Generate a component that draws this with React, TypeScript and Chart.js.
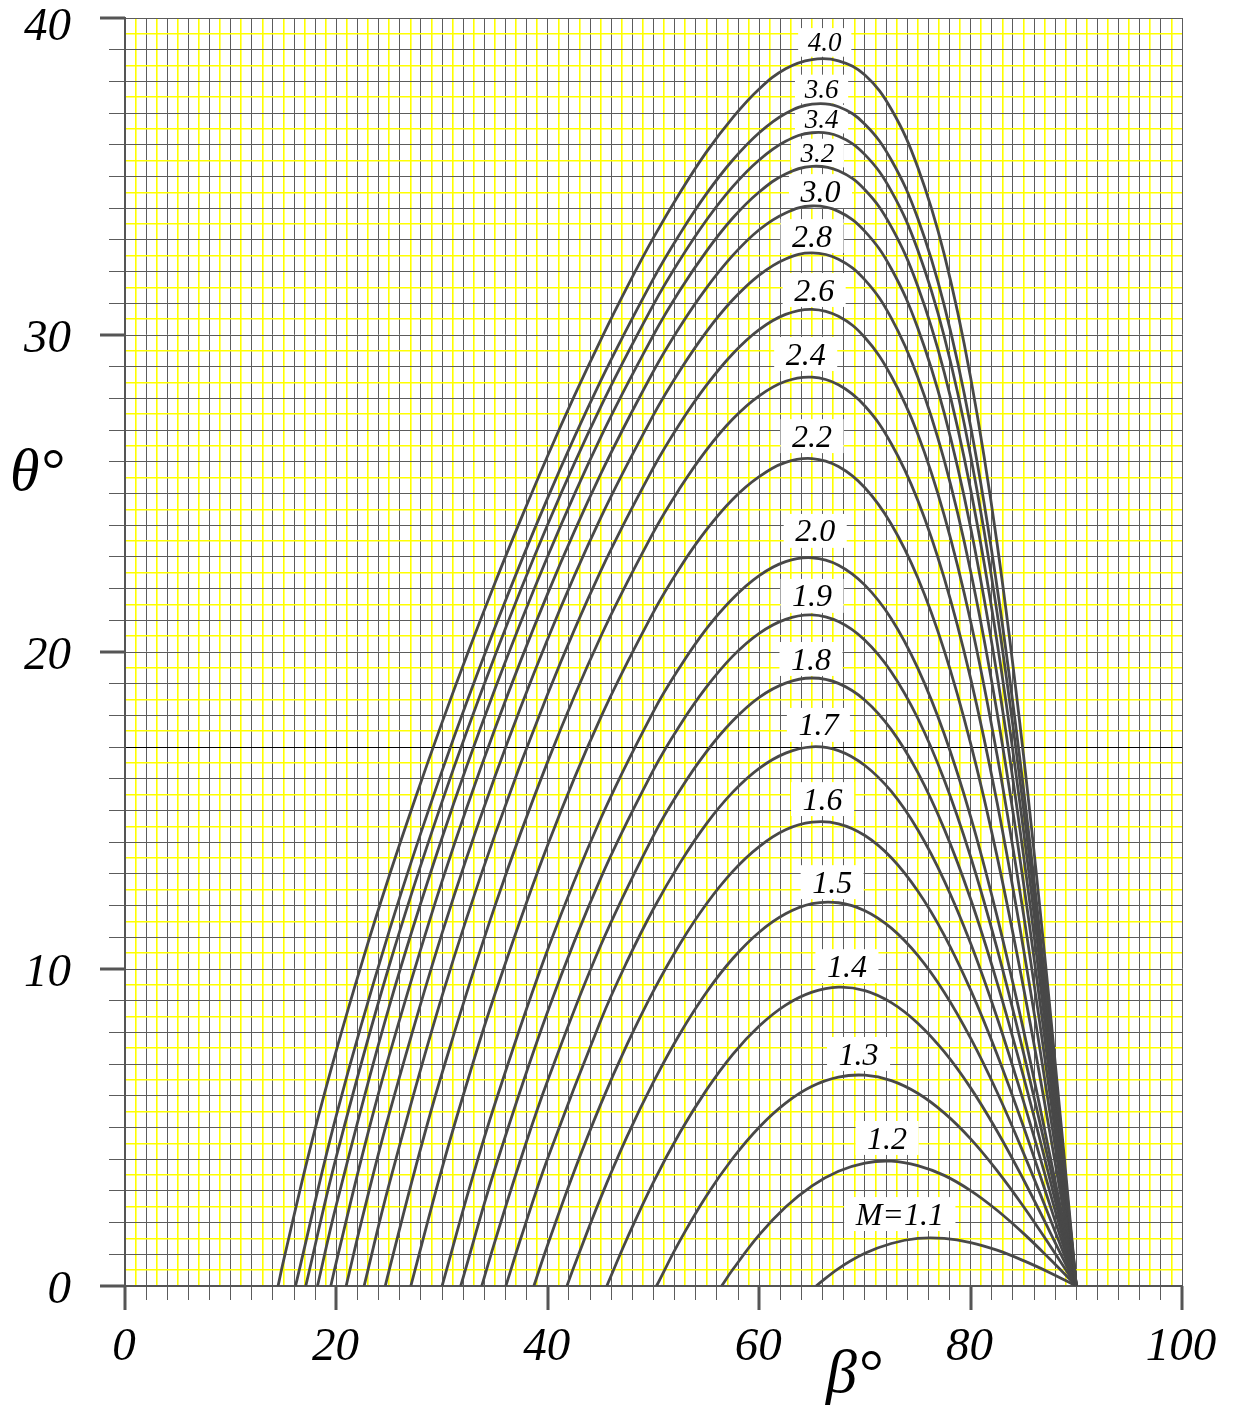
import { useEffect, useRef } from 'react';
import { Chart, registerables } from 'chart.js';

Chart.register(...registerables);

const SERIF = '"Liberation Serif", "Times New Roman", serif';
const CURVE_COLOR = '#484848';
const GRID_GRAY = '#5c5c5c';
const GRID_YELLOW = '#ffff00';

// Oblique shock curves: shock wave angle beta (deg) vs. flow deflection theta (deg)
const machNumbers = [4.0, 3.6, 3.4, 3.2, 3.0, 2.8, 2.6, 2.4, 2.2, 2.0, 1.9, 1.8, 1.7, 1.6, 1.5, 1.4, 1.3, 1.2, 1.1];

const beta40 = [14.48, 15, 17.5, 20, 22.5, 25, 27.5, 30, 32.5, 35, 37.5, 40, 42.5, 45, 47.5, 50, 52.5, 55, 57.5, 60, 62.5, 65, 67.5, 70, 72.5, 75, 77.5, 80, 82.5, 85, 87.5, 90];
const theta40 = [0, 0.8, 4.32, 7.44, 10.29, 12.94, 15.42, 17.78, 20.03, 22.18, 24.23, 26.2, 28.07, 29.84, 31.51, 33.07, 34.49, 35.77, 36.86, 37.76, 38.4, 38.69, 38.65, 38.2, 37.12, 35.29, 32.55, 28.66, 23.44, 16.76, 8.78, 0];

const beta36 = [16.13, 20, 25, 30, 35, 40, 45, 50, 52.5, 55, 57.5, 60, 62.5, 65, 67.5, 70, 72.5, 75, 77.5, 80, 82.5, 85, 87.5, 90];
const theta36 = [0, 5.39, 11.2, 16.25, 20.77, 24.87, 28.55, 31.78, 33.19, 34.45, 35.52, 36.38, 36.99, 37.28, 37.2, 36.65, 35.52, 33.68, 30.94, 27.12, 22.06, 15.7, 8.2, 0];

const beta34 = [17.1, 20, 25, 30, 35, 40, 45, 50, 52.5, 55, 57.5, 60, 62.5, 65, 67.5, 70, 72.5, 75, 77.5, 80, 82.5, 85, 87.5, 90];
const theta34 = [0, 4.09, 10.11, 15.28, 19.88, 24.03, 27.73, 30.96, 32.37, 33.62, 34.68, 35.52, 36.11, 36.38, 36.27, 35.69, 34.54, 32.68, 29.96, 26.19, 21.25, 15.08, 7.86, 0];

const beta32 = [18.21, 20, 25, 30, 35, 40, 45, 50, 52.5, 55, 57.5, 60, 62.5, 65, 67.5, 70, 72.5, 75, 77.5, 80, 82.5, 85, 87.5, 90];
const theta32 = [0, 2.57, 8.82, 14.14, 18.83, 23.03, 26.77, 30.0, 31.41, 32.64, 33.69, 34.51, 35.08, 35.32, 35.18, 34.58, 33.41, 31.54, 28.83, 25.13, 20.32, 14.38, 7.48, 0];

const beta30 = [19.47, 20, 22.5, 25, 30, 35, 40, 45, 50, 52.5, 55, 57.5, 60, 62.5, 65, 67.5, 70, 72.5, 75, 77.5, 80, 82.5, 85, 87.5, 90];
const theta30 = [0, 0.77, 4.19, 7.28, 12.77, 17.58, 21.85, 25.61, 28.86, 30.26, 31.48, 32.51, 33.32, 33.85, 34.07, 33.9, 33.27, 32.09, 30.22, 27.54, 23.93, 19.28, 13.6, 7.05, 0];

const beta28 = [20.92, 22.5, 25, 30, 35, 40, 45, 50, 52.5, 55, 57.5, 60, 62.5, 65, 67.5, 70, 72.5, 75, 77.5, 80, 82.5, 85, 87.5, 90];
const theta28 = [0, 2.21, 5.44, 11.13, 16.07, 20.42, 24.23, 27.48, 28.88, 30.1, 31.11, 31.89, 32.4, 32.59, 32.39, 31.74, 30.53, 28.67, 26.05, 22.55, 18.1, 12.72, 6.58, 0];

const beta26 = [22.62, 25, 30, 35, 40, 45, 50, 52.5, 55, 57.5, 60, 62.5, 65, 67.5, 70, 72.5, 75, 77.5, 80, 82.5, 85, 87.5, 90];
const theta26 = [0, 3.22, 9.15, 14.24, 18.68, 22.55, 25.82, 27.21, 28.41, 29.41, 30.17, 30.65, 30.81, 30.59, 29.92, 28.7, 26.88, 24.32, 20.97, 16.76, 11.74, 6.06, 0];

const beta24 = [24.62, 25, 27.5, 30, 35, 40, 45, 50, 52.5, 55, 57.5, 60, 62.5, 65, 67.5, 70, 72.5, 75, 77.5, 80, 82.5, 85, 87.5, 90];
const theta24 = [0, 0.51, 3.75, 6.72, 11.99, 16.55, 20.48, 23.78, 25.17, 26.37, 27.35, 28.08, 28.54, 28.67, 28.43, 27.76, 26.57, 24.79, 22.34, 19.17, 15.26, 10.64, 5.48, 0];

const beta22 = [27.04, 30, 32.5, 35, 40, 45, 50, 52.5, 55, 57.5, 60, 62.5, 65, 67.5, 70, 72.5, 75, 77.5, 80, 82.5, 85, 87.5, 90];
const theta22 = [0, 3.72, 6.57, 9.21, 13.92, 17.93, 21.26, 22.66, 23.85, 24.82, 25.53, 25.98, 26.1, 25.85, 25.18, 24.03, 22.34, 20.05, 17.12, 13.56, 9.42, 4.84, 0];

const beta20 = [30, 32.5, 35, 40, 45, 50, 52.5, 55, 57.5, 60, 62.5, 65, 67.5, 70, 72.5, 75, 77.5, 80, 82.5, 85, 87.5, 90];
const theta20 = [0, 2.99, 5.75, 10.62, 14.74, 18.13, 19.53, 20.73, 21.69, 22.41, 22.85, 22.97, 22.74, 22.11, 21.05, 19.49, 17.42, 14.81, 11.67, 8.08, 4.13, 0];

const beta19 = [31.76, 35, 40, 45, 50, 52.5, 55, 57.5, 60, 62.5, 65, 67.5, 70, 72.5, 75, 77.5, 80, 82.5, 85, 87.5, 90];
const theta19 = [0, 3.7, 8.67, 12.86, 16.28, 17.69, 18.89, 19.87, 20.59, 21.03, 21.17, 20.96, 20.37, 19.37, 17.91, 15.97, 13.54, 10.65, 7.36, 3.76, 0];

const beta18 = [33.75, 35, 37.5, 40, 45, 50, 52.5, 55, 57.5, 60, 62.5, 65, 67.5, 70, 72.5, 75, 77.5, 80, 82.5, 85, 87.5, 90];
const theta18 = [0, 1.41, 4.06, 6.49, 10.74, 14.21, 15.64, 16.85, 17.83, 18.57, 19.02, 19.18, 19.01, 18.48, 17.55, 16.2, 14.42, 12.21, 9.58, 6.61, 3.37, 0];

const beta17 = [36.03, 37.5, 40, 45, 47.5, 50, 52.5, 55, 57.5, 60, 62.5, 65, 67.5, 70, 72.5, 75, 77.5, 80, 82.5, 85, 87.5, 90];
const theta17 = [0, 1.56, 4.04, 8.37, 10.24, 11.9, 13.34, 14.58, 15.58, 16.33, 16.81, 17.01, 16.89, 16.42, 15.6, 14.39, 12.79, 10.81, 8.47, 5.83, 2.97, 0];

const beta16 = [38.68, 40, 42.5, 45, 47.5, 50, 52.5, 55, 57.5, 60, 62.5, 65, 67.5, 70, 72.5, 75, 77.5, 80, 82.5, 85, 87.5, 90];
const theta16 = [0, 1.31, 3.62, 5.73, 7.62, 9.31, 10.79, 12.05, 13.08, 13.86, 14.39, 14.63, 14.58, 14.21, 13.51, 12.46, 11.07, 9.34, 7.31, 5.03, 2.56, 0];

const beta15 = [41.81, 42.5, 45, 47.5, 50, 52.5, 55, 57.5, 60, 62.5, 65, 67.5, 70, 72.5, 75, 77.5, 80, 82.5, 85, 87.5, 90];
const theta15 = [0, 0.63, 2.78, 4.72, 6.44, 7.96, 9.26, 10.33, 11.16, 11.74, 12.06, 12.09, 11.84, 11.29, 10.43, 9.27, 7.82, 6.12, 4.2, 2.14, 0];

const beta14 = [45.58, 47.5, 50, 52.5, 55, 57.5, 60, 62.5, 65, 67.5, 70, 72.5, 75, 77.5, 80, 82.5, 85, 87.5, 90];
const theta14 = [0, 1.5, 3.28, 4.84, 6.18, 7.31, 8.2, 8.86, 9.27, 9.43, 9.32, 8.94, 8.29, 7.39, 6.25, 4.89, 3.36, 1.71, 0];

const beta13 = [50.28, 52.5, 55, 57.5, 60, 62.5, 65, 67.5, 70, 72.5, 75, 77.5, 80, 82.5, 85, 87.5, 90];
const theta13 = [0, 1.43, 2.84, 4.03, 5.01, 5.77, 6.3, 6.59, 6.65, 6.48, 6.08, 5.46, 4.64, 3.64, 2.51, 1.28, 0];

const beta12 = [56.44, 57.5, 60, 62.5, 65, 67.5, 70, 72.5, 75, 77.5, 80, 82.5, 85, 87.5, 90];
const theta12 = [0, 0.52, 1.61, 2.49, 3.16, 3.62, 3.88, 3.94, 3.8, 3.49, 3.01, 2.39, 1.66, 0.85, 0];

const beta11 = [65.38, 67.5, 70, 72.5, 75, 77.5, 80, 82.5, 85, 87.5, 90];
const theta11 = [0, 0.55, 1.03, 1.34, 1.5, 1.5, 1.37, 1.13, 0.8, 0.42, 0];

const curveBeta = [beta40, beta36, beta34, beta32, beta30, beta28, beta26, beta24, beta22, beta20, beta19, beta18, beta17, beta16, beta15, beta14, beta13, beta12, beta11];
const curveTheta = [theta40, theta36, theta34, theta32, theta30, theta28, theta26, theta24, theta22, theta20, theta19, theta18, theta17, theta16, theta15, theta14, theta13, theta12, theta11];

// Curve labels (placed in data coordinates above each peak)
const labelText = ['4.0', '3.6', '3.4', '3.2', '3.0', '2.8', '2.6', '2.4', '2.2', '2.0', '1.9', '1.8', '1.7', '1.6', '1.5', '1.4', '1.3', '1.2', 'M=1.1'];
const labelBeta = [66.2, 65.9, 65.9, 65.5, 65.8, 65.0, 65.2, 64.4, 65.0, 65.3, 65.0, 64.9, 65.6, 66.0, 66.9, 68.3, 69.4, 72.1, 73.3];
const labelTheta = [39.23, 37.76, 36.81, 35.74, 34.54, 33.12, 31.42, 29.4, 26.81, 23.82, 21.77, 19.78, 17.7, 15.36, 12.74, 10.09, 7.32, 4.67, 2.27];
const labelSize = [27, 27, 27, 27, 32, 32, 32, 32, 32, 32, 32, 32, 32, 32, 32, 32, 32, 32, 32];

const xTickLabels = [0, 20, 40, 60, 80, 100];
const yTickLabels = [0, 10, 20, 30, 40];

const decorPlugin = {
  id: 'shockDecor',
  beforeDatasetsDraw(chart: any) {
    const { ctx, scales } = chart;
    const xs = scales.x;
    const ys = scales.y;
    ctx.save();
    for (let i = 0; i < labelText.length; i++) {
      const size = labelSize[i];
      const px = xs.getPixelForValue(labelBeta[i]);
      const py = ys.getPixelForValue(labelTheta[i]);
      ctx.font = `italic ${size}px ${SERIF}`;
      const w = ctx.measureText(labelText[i]).width;
      const padX = size * 0.36;
      const boxH = size * 1.06;
      ctx.fillStyle = '#ffffff';
      ctx.fillRect(px - w / 2 - padX, py - boxH / 2, w + padX * 2, boxH);
      ctx.fillStyle = '#000000';
      ctx.textAlign = 'center';
      ctx.textBaseline = 'alphabetic';
      ctx.fillText(labelText[i], px, py + size * 0.33);
    }
    ctx.restore();
  },
  afterDraw(chart: any) {
    const { ctx, scales, chartArea } = chart;
    const xs = scales.x;
    const ys = scales.y;
    ctx.save();
    // major tick marks
    ctx.strokeStyle = '#555555';
    ctx.lineWidth = 3;
    ctx.beginPath();
    xTickLabels.forEach((v) => {
      const px = Math.round(xs.getPixelForValue(v));
      ctx.moveTo(px, chartArea.bottom);
      ctx.lineTo(px, chartArea.bottom + 24);
    });
    yTickLabels.forEach((v) => {
      const py = Math.round(ys.getPixelForValue(v));
      ctx.moveTo(chartArea.left - 25, py);
      ctx.lineTo(chartArea.left, py);
    });
    ctx.stroke();

    // tick labels
    ctx.fillStyle = '#000000';
    ctx.font = `italic 47px ${SERIF}`;
    ctx.textBaseline = 'alphabetic';
    ctx.textAlign = 'center';
    xTickLabels.forEach((v) => {
      const px = xs.getPixelForValue(v);
      ctx.fillText(String(v), px - 1, chartArea.bottom + 74);
    });
    ctx.textAlign = 'right';
    yTickLabels.forEach((v) => {
      const py = ys.getPixelForValue(v);
      ctx.fillText(String(v), chartArea.left - 54, Math.max(py + 17, 40));
    });

    // axis titles
    ctx.textAlign = 'left';
    ctx.font = `italic 60px ${SERIF}`;
    ctx.fillText('\u03B8\u00B0', 10, 490);
    ctx.font = `italic 62px ${SERIF}`;
    ctx.fillText('\u03B2\u00B0', 826, 1392);
    ctx.restore();
  },
};

export default function App() {
  const canvasRef = useRef<HTMLCanvasElement | null>(null);

  useEffect(() => {
    const canvas = canvasRef.current;
    if (!canvas) return;

    const datasets = machNumbers.map((m, i) => ({
      label: 'M=' + m.toFixed(1),
      data: curveBeta[i].map((b, j) => ({ x: b, y: curveTheta[i][j] })),
      borderColor: CURVE_COLOR,
      borderWidth: 2.8,
      pointRadius: 0,
      fill: false,
      tension: 0.4,
    }));

    const isGrayX = (c: any) => c.tick && Math.round(c.tick.value) % 2 === 0;
    const isGrayY = (c: any) => c.tick && Number.isInteger(c.tick.value);

    const chart = new Chart(canvas, {
      type: 'line',
      data: { datasets },
      options: {
        responsive: false,
        animation: false,
        devicePixelRatio: 1,
        layout: { padding: { top: 18, right: 51, left: 0, bottom: 0 } },
        plugins: {
          legend: { display: false },
          tooltip: { enabled: false },
        },
        scales: {
          x: {
            type: 'linear',
            min: 0,
            max: 100,
            afterFit: (s: any) => {
              s.height = 121;
            },
            ticks: { display: false, stepSize: 1, maxTicksLimit: 500, autoSkip: false },
            grid: {
              color: (c: any) => (isGrayX(c) ? GRID_GRAY : GRID_YELLOW),
              lineWidth: (c: any) => (isGrayX(c) ? 1 : 1.6),
              tickColor: (c: any) => (isGrayX(c) ? GRID_GRAY : 'rgba(0,0,0,0)'),
              drawTicks: true,
              tickLength: 14,
            },
            border: { display: true, color: '#555555', width: 2 },
          },
          y: {
            type: 'linear',
            min: 0,
            max: 40,
            afterFit: (s: any) => {
              s.width = 125;
            },
            ticks: { display: false, stepSize: 0.5, maxTicksLimit: 500, autoSkip: false },
            grid: {
              color: (c: any) => {
                const v = c.tick ? c.tick.value : 0;
                if (v === 17) return '#000000';
                return isGrayY(c) ? GRID_GRAY : GRID_YELLOW;
              },
              lineWidth: (c: any) => (isGrayY(c) ? 1 : 1.6),
              tickColor: (c: any) => (isGrayY(c) ? GRID_GRAY : 'rgba(0,0,0,0)'),
              drawTicks: true,
              tickLength: 16,
            },
            border: { display: true, color: '#555555', width: 2 },
          },
        },
      },
      plugins: [decorPlugin],
    } as any);

    return () => {
      chart.destroy();
    };
  }, []);

  return (
    <div style={{ position: 'absolute', left: 0, top: 0, width: 1233, height: 1407, background: '#ffffff' }}>
      <canvas ref={canvasRef} width={1233} height={1407} style={{ display: 'block', width: 1233, height: 1407 }} />
    </div>
  );
}
